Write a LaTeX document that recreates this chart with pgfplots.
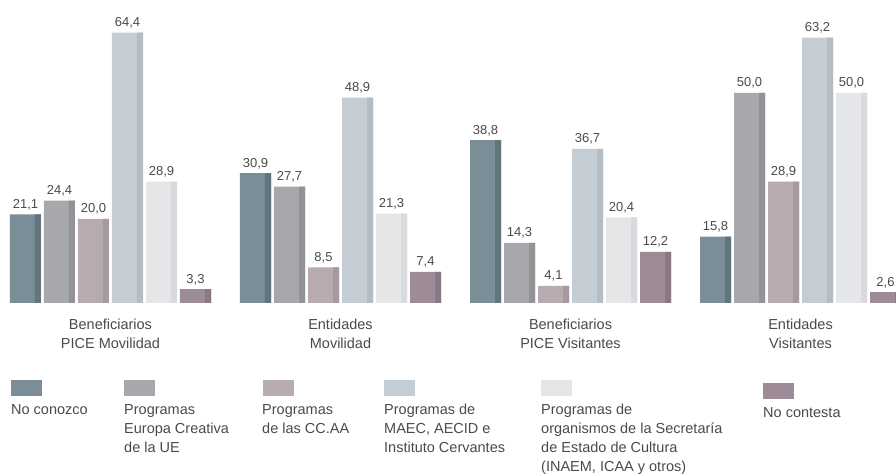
\documentclass[border=0pt]{standalone}
\usepackage{fontspec}
\setmainfont{Liberation Sans}
\usepackage{pgfplots}
\pgfplotsset{compat=1.18}
\usepackage{pgfplotstable}

% bar colours: face and darker right strip
\definecolor{cA}{HTML}{7B8D96}\definecolor{dA}{HTML}{62747C}
\definecolor{cB}{HTML}{A7A8AC}\definecolor{dB}{HTML}{929397}
\definecolor{cC}{HTML}{B8AAB1}\definecolor{dC}{HTML}{A799A0}
\definecolor{cD}{HTML}{C5CDD4}\definecolor{dD}{HTML}{B4BDC3}
\definecolor{cE}{HTML}{E5E6E8}\definecolor{dE}{HTML}{D9DADD}
\definecolor{cF}{HTML}{9D8C97}\definecolor{dF}{HTML}{8A7884}
\definecolor{txt}{HTML}{4A4A4A}

\pgfplotstableread{
g  s1   s2   s3   s4   s5   s6
0  21.1 24.4 20.0 64.4 28.9 3.3
1  30.9 27.7 8.5  48.9 21.3 7.4
2  38.8 14.3 4.1  36.7 20.4 12.2
3  15.8 50.0 28.9 63.2 50.0 2.6
}\datatable

% #1 column, #2 face colour, #3 strip colour, #4 bar shift
\newcommand\serie[4]{%
  \addplot[fill=#2, draw=none, bar shift=#4, nodes near coords] table[x=g, y=#1] {\datatable};
  \addplot[fill=#3, draw=none, bar width=0.0261, bar shift={#4+0.05435}] table[x=g, y=#1] {\datatable};
}

\begin{document}
\begin{tikzpicture}
\begin{axis}[
  at={(0bp,173bp)}, anchor=south west,
  scale only axis, width=896bp, height=303bp,
  xmin=-0.4804, xmax=3.4152, ymin=0, ymax=72.14,
  clip=false, axis line style={draw=none},
  ytick=\empty, xtick={0,1,2,3}, major tick length=0pt,
  xticklabels={Beneficiarios\\PICE Movilidad, Entidades\\Movilidad,
    Beneficiarios\\PICE Visitantes, Entidades\\Visitantes},
  xticklabel style={align=center, text=txt, anchor=north, inner sep=0pt, yshift=-16bp,
    font=\fontsize{14.5bp}{19bp}\selectfont},
  ybar, bar width=0.1348,
  nodes near coords style={font=\fontsize{13bp}{15bp}\selectfont, text=txt,
    anchor=base, yshift=6bp, inner sep=0pt,
    /pgf/number format/.cd, use comma, fixed, fixed zerofill, precision=1,
    assume math mode=true},
]
  \serie{s1}{cA}{dA}{-0.36957}
  \serie{s2}{cB}{dB}{-0.22174}
  \serie{s3}{cC}{dC}{-0.07391}
  \serie{s4}{cD}{dD}{0.07391}
  \serie{s5}{cE}{dE}{0.22174}
  \serie{s6}{cF}{dF}{0.36957}
\end{axis}

% legend
\begin{scope}[every node/.style={align=left, anchor=north west, inner sep=0pt, text=txt,
    font=\fontsize{14.5bp}{19bp}\selectfont}]
  \fill[cA] (11bp,80bp) rectangle ++(31bp,16bp);
  \node at (11bp,72bp) {No conozco};
  \fill[cB] (124bp,80bp) rectangle ++(31bp,16bp);
  \node at (124bp,72bp) {Programas\\Europa Creativa\\de la UE};
  \fill[cC] (263bp,80bp) rectangle ++(31bp,16bp);
  \node at (262bp,72bp) {Programas\\de las CC.AA};
  \fill[cD] (384bp,80bp) rectangle ++(31bp,16bp);
  \node at (384bp,72bp) {Programas de\\MAEC, AECID e\\Instituto Cervantes};
  \fill[cE] (541bp,80bp) rectangle ++(31bp,16bp);
  \node at (541bp,72bp) {Programas de\\organismos de la Secretaría\\de Estado de Cultura\\(INAEM, ICAA y otros)};
  \fill[cF] (763bp,77bp) rectangle ++(31bp,16bp);
  \node at (763bp,69bp) {No contesta};
\end{scope}

\pgfresetboundingbox
\path[use as bounding box] (0bp,0bp) rectangle (896bp,476bp);
\end{tikzpicture}
\end{document}
